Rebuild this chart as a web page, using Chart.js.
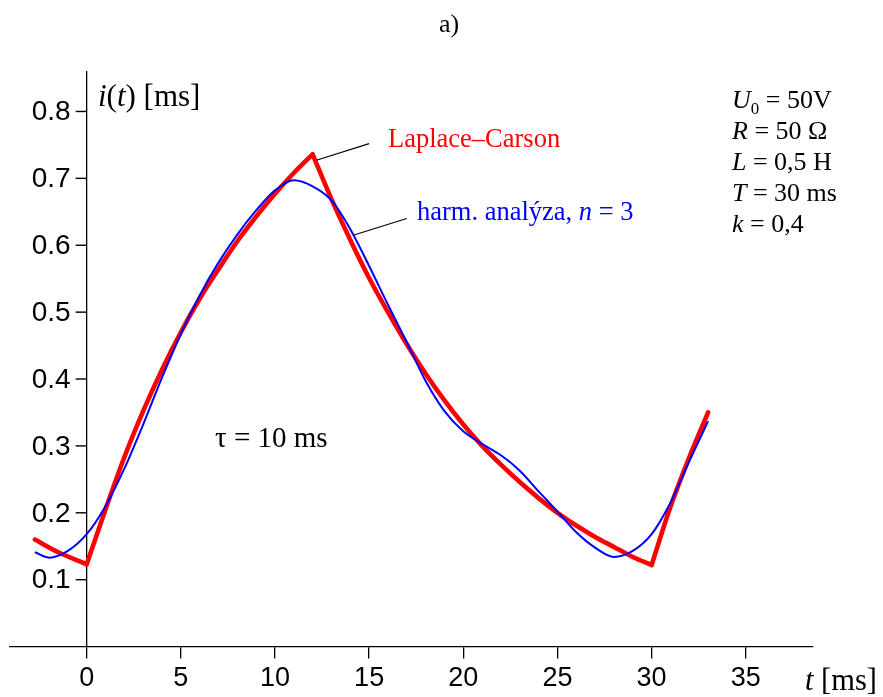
<!DOCTYPE html>
<html lang="cs">
<head>
    <meta charset="UTF-8">
    <title>i(t) – Laplace–Carson a harmonická analýza</title>
    <script src="https://cdn.jsdelivr.net/npm/chart.js"></script>
    <style>
        html, body { margin: 0; padding: 0; background: #fff; }
        #wrap { width: 883px; height: 697px; }
    </style>
</head>
<body>
    <div id="wrap">
        <canvas id="graf"></canvas>
    </div>

    <script>
        // čas t [ms]
        const casLC = [-2.75, -1.5, 0, 1, 2, 3, 4, 5, 6, 7, 8, 9, 10, 11, 12, 13, 14, 15, 16, 17, 18,
                       19, 20, 21, 22, 23, 24, 25, 26, 27, 28, 29, 30, 31, 32, 33];
        // Laplace–Carson
        const proudLC = [0.160, 0.141, 0.123, 0.205, 0.283, 0.352, 0.414, 0.470, 0.520, 0.564, 0.606, 0.643,
                         0.677, 0.708, 0.736, 0.669, 0.608, 0.551, 0.500, 0.452, 0.408, 0.368, 0.332,
                         0.300, 0.272, 0.246, 0.222, 0.200, 0.181, 0.164, 0.149, 0.134, 0.122,
                         0.209, 0.283, 0.350];
        // zlomy průběhu (spínání)
        const zlomy = [0, 12, 30];

        const casHA = [-2.75, -2, -1, 0, 1, 2, 3, 4, 5, 6, 7, 8, 9, 10, 11, 12, 13, 14, 15, 16, 17, 18,
                       19, 20, 21, 22, 23, 24, 25, 26, 27, 28, 29, 30, 31, 32, 33];
        // harmonická analýza, n = 3
        const proudHA = [0.141, 0.133, 0.143, 0.168, 0.210, 0.266, 0.332, 0.402, 0.467, 0.525, 0.574,
                         0.616, 0.652, 0.682, 0.697, 0.688, 0.667, 0.624, 0.569, 0.511, 0.455, 0.397,
                         0.352, 0.322, 0.303, 0.286, 0.263, 0.232, 0.202, 0.171, 0.148, 0.134,
                         0.143, 0.168, 0.215, 0.277, 0.337];

        const xTicks = [0, 5, 10, 15, 20, 25, 30, 35];
        const yTicks = [0.1, 0.2, 0.3, 0.4, 0.5, 0.6, 0.7, 0.8];

        // odkazové čáry k popiskům [t, i]
        const odkazLC = [[12.2, 0.727], [15.0, 0.752]];
        const odkazHA = [[14.15, 0.615], [17.0, 0.640]];

        const serif = "'Liberation Serif', 'Times New Roman', serif";
        const sans = "'Liberation Sans', Arial, sans-serif";

        // Laplace–Carson po úsecích, aby zlomy zůstaly ostré
        const hranice = [casLC[0], ...zlomy, casLC[casLC.length - 1]];
        const useky = [];
        for (let k = 0; k < hranice.length - 1; k++) {
            const body = [];
            casLC.forEach((t, i) => {
                if (t >= hranice[k] && t <= hranice[k + 1]) body.push({x: t, y: proudLC[i]});
            });
            useky.push({
                label: 'Laplace–Carson',
                data: body,
                borderColor: '#ff0000',
                borderWidth: 4.6,
                borderCapStyle: 'round',
                borderJoinStyle: 'round',
                pointRadius: 0,
                cubicInterpolationMode: 'monotone',
                fill: false
            });
        }

        // popisky, osa y a parametry kreslené přímo na plátno
        const popisky = {
            id: 'popisky',
            afterDraw(chart) {
                const ctx = chart.ctx;
                const sx = chart.scales.x, sy = chart.scales.y;
                const px = (p) => [sx.getPixelForValue(p[0]), sy.getPixelForValue(p[1])];

                ctx.save();
                // značky a popisky osy y
                const x0 = sx.getPixelForValue(0);
                ctx.fillStyle = '#000';
                yTicks.forEach(v => {
                    const y = sy.getPixelForValue(v);
                    ctx.fillRect(x0 - 11, y - 0.7, 11, 1.4);
                });
                ctx.font = '28px ' + sans;
                ctx.textAlign = 'right';
                ctx.textBaseline = 'middle';
                yTicks.forEach(v => ctx.fillText(v.toFixed(1), x0 - 16, sy.getPixelForValue(v) + 1));

                // odkazové čáry
                ctx.strokeStyle = '#000';
                ctx.lineWidth = 1.2;
                [odkazLC, odkazHA].forEach(o => {
                    const a = px(o[0]), b = px(o[1]);
                    ctx.beginPath();
                    ctx.moveTo(a[0], a[1]);
                    ctx.lineTo(b[0], b[1]);
                    ctx.stroke();
                });

                ctx.textBaseline = 'alphabetic';
                ctx.textAlign = 'left';

                // kousky textu s kurzívou
                function kusy(parts, x, y, size, color) {
                    ctx.fillStyle = color;
                    let cx = x;
                    parts.forEach(p => {
                        const st = p.i ? 'italic ' : '';
                        const sz = p.sub ? size * 0.65 : size;
                        ctx.font = st + sz + 'px ' + serif;
                        ctx.fillText(p.t, cx, y + (p.sub ? size * 0.22 : 0));
                        cx += ctx.measureText(p.t).width;
                    });
                }

                kusy([{t: 'Laplace–Carson'}], 388, 147, 26.5, '#ff0000');
                kusy([{t: 'harm. analýza, '}, {t: 'n', i: true}, {t: ' = 3'}], 417, 220, 26.5, '#0000ff');
                kusy([{t: 'τ = 10 ms'}], 215, 447, 29, '#000');
                kusy([{t: 'i', i: true}, {t: '('}, {t: 't', i: true}, {t: ') [ms]'}], 98, 106, 31, '#000');
                kusy([{t: 't', i: true}, {t: ' [ms]'}], 805, 690, 30.5, '#000');

                ctx.font = '26px ' + serif;
                ctx.fillStyle = '#000';
                ctx.textAlign = 'center';
                ctx.fillText('a)', 449, 32);
                ctx.textAlign = 'left';

                const par = [
                    [{t: 'U', i: true}, {t: '0', sub: true}, {t: ' = 50V'}],
                    [{t: 'R', i: true}, {t: ' = 50 Ω'}],
                    [{t: 'L', i: true}, {t: ' = 0,5 H'}],
                    [{t: 'T', i: true}, {t: ' = 30 ms'}],
                    [{t: 'k', i: true}, {t: ' = 0,4'}]
                ];
                par.forEach((r, j) => kusy(r, 732, 108 + j * 31, 26, '#000'));
                ctx.restore();
            }
        };

        const ctx = document.getElementById('graf').getContext('2d');
        Chart.defaults.font.family = sans;
        Chart.defaults.color = '#000';

        new Chart(ctx, {
            type: 'line',
            data: {
                datasets: [{
                    label: 'harm. analýza, n = 3',
                    data: casHA.map((t, i) => ({x: t, y: proudHA[i]})),
                    borderColor: '#0000ff',
                    borderWidth: 2,
                    pointRadius: 0,
                    cubicInterpolationMode: 'monotone',
                    fill: false
                }, ...useky]
            },
            options: {
                responsive: true,
                maintainAspectRatio: false,
                animation: false,
                layout: {
                    padding: { left: 10, right: 70, top: 72, bottom: -2 }
                },
                plugins: {
                    legend: { display: false },
                    tooltip: { enabled: false }
                },
                scales: {
                    x: {
                        type: 'linear',
                        position: 'bottom',
                        min: -4.07,
                        max: 38.57,
                        afterBuildTicks: (s) => { s.ticks = xTicks.map(v => ({value: v})); },
                        grid: {
                            drawOnChartArea: false,
                            drawTicks: true,
                            tickLength: 12,
                            tickColor: '#000',
                            lineWidth: 1.3
                        },
                        border: { display: true, color: '#000', width: 1.3 },
                        ticks: {
                            font: { size: 27 },
                            color: '#000',
                            maxRotation: 0,
                            autoSkip: false,
                            padding: 4
                        }
                    },
                    y: {
                        type: 'linear',
                        position: { x: 0 },
                        min: 0,
                        max: 0.859,
                        afterBuildTicks: (s) => { s.ticks = yTicks.map(v => ({value: v})); },
                        grid: { display: false },
                        border: { display: true, color: '#000', width: 1.3 },
                        ticks: { display: false }
                    }
                }
            },
            plugins: [popisky]
        });
    </script>
</body>
</html>
